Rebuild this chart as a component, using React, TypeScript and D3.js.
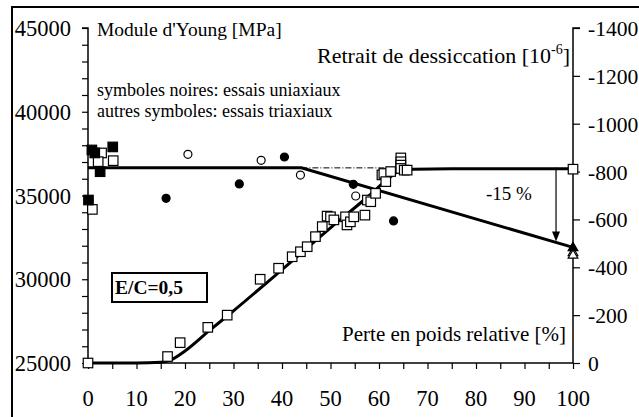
import React, { useRef, useEffect } from "react";
import * as d3 from "d3";

// x axis: relative weight loss [%]
const pctTicks = [0, 10, 20, 30, 40, 50, 60, 70, 80, 90, 100];
const eTicks = [25000, 30000, 35000, 40000, 45000];
const strainTicks = [0, -200, -400, -600, -800, -1000, -1200, -1400];

// Young's modulus trend line (left axis)
const eLinePct = [0, 44, 100];
const eLineVal = [36650, 36650, 31900];
const eDashPct = [44, 64];
const eDashVal = [36650, 36650];

// drying shrinkage trend curve (right axis)
const shrinkPct = [0, 10, 15, 17, 20, 25, 30, 40, 50, 58, 62, 64, 67, 75, 100];
const shrinkVal = [0, 0, -3, -12, -50, -135, -218, -390, -565, -700, -772, -800, -810, -812, -812];

// uniaxial (black) E points
const eFilledSqPct = [0.8, 1.4, 5.1, 2.5, 0.1];
const eFilledSqVal = [37720, 37540, 37900, 36420, 34730];
const eFilledCirPct = [16.1, 31.2, 40.5, 54.7, 63];
const eFilledCirVal = [34830, 35690, 37300, 35670, 33480];
// triaxial E points
const eOpenSqPct = [2.8, 5.2, 2.1, 0.9];
const eOpenSqVal = [37540, 37080, 37020, 34170];
const eOpenCirPct = [20.6, 35.7, 43.8, 55.2];
const eOpenCirVal = [37460, 37100, 36220, 34970];
const triFilledPct = [100];
const triFilledVal = [31880];
const triOpenPct = [100, 100];
const triOpenVal = [31580, 31430];

// shrinkage measurements (right axis)
const shrinkSqPct = [0, 16.4, 19, 24.7, 28.7, 35.5, 39.3, 42.1, 43.8, 45.2, 46.9, 48.3, 49.3, 50, 50.7,
  53.1, 53.4, 54.1, 54.8, 57.1, 57.6, 58.3, 59.3, 60.6, 61, 61.4, 62.4, 64.5, 64.5, 64.5, 64.5, 65.2, 65.8, 100];
const shrinkSqVal = [0, -27, -85, -149, -200, -350, -396, -444, -465, -486, -528, -570, -614, -611, -598,
  -611, -577, -590, -611, -618, -681, -674, -709, -786, -792, -758, -800, -857, -841, -827, -813, -806, -806, -810];

// -15 % arrow
const arrowPct = [96.5, 96.5];
const arrowVal = [36650, 32250];

const W = 639;
const H = 417;
const FONT = "'Liberation Serif', 'Times New Roman', serif";

const App = () => {
  const svgRef = useRef(null);

  useEffect(() => {
    const svg = d3.select(svgRef.current);
    svg.selectAll("*").remove();

    const x = d3.scaleLinear().domain([0, 100]).range([88, 573]);
    const yE = d3.scaleLinear().domain([25000, 45000]).range([363, 28]);
    const yS = d3.scaleLinear().domain([0, -1400]).range([363, 28]);

    // outer frame (left and top edges)
    svg.append("path").attr("d", `M12,${H} L12,7 L${W},7`).attr("fill", "none")
      .attr("stroke", "#000").attr("stroke-width", 2);

    // left axis
    const leftAxis = svg.append("g").attr("transform", `translate(${x(0)},0)`)
      .call(d3.axisLeft(yE).tickValues(d3.range(25000, 45001, 1000)).tickSize(6).tickFormat(() => ""));
    leftAxis.select(".domain").attr("stroke-width", 1.5).attr("d", `M-6,${yE(45000)}H0V${yE(25000)}`);
    leftAxis.selectAll(".tick line").attr("stroke-width", 1.2);
    svg.append("g").selectAll("text").data(eTicks).enter().append("text")
      .attr("x", 71).attr("y", (d) => yE(d) + 8).attr("text-anchor", "end")
      .attr("font-family", FONT).attr("font-size", 22.5).text((d) => d);

    // right axis
    const rightAxis = svg.append("g").attr("transform", `translate(${x(100)},0)`)
      .call(d3.axisRight(yS).tickValues(strainTicks).tickSize(7).tickFormat(() => ""));
    rightAxis.select(".domain").attr("stroke-width", 1.5).attr("d", `M7,${yS(-1400)}H0V${yS(0)}`);
    rightAxis.selectAll(".tick line").attr("stroke-width", 1.2);
    svg.append("g").selectAll("text").data(strainTicks).enter().append("text")
      .attr("x", 588).attr("y", (d) => yS(d) + 8)
      .attr("font-family", FONT).attr("font-size", 21.6).text((d) => d);

    // bottom axis
    const bottomAxis = svg.append("g").attr("transform", `translate(0,${yE(25000)})`)
      .call(d3.axisBottom(x).tickValues(d3.range(0, 101, 5)).tickSize(6).tickFormat(() => ""));
    bottomAxis.select(".domain").attr("stroke-width", 1.5).attr("d", `M${x(0)},0H${x(100)}`);
    bottomAxis.selectAll(".tick line").attr("stroke-width", 1.2);
    svg.append("g").selectAll("text").data(pctTicks).enter().append("text")
      .attr("x", (d) => x(d)).attr("y", 406).attr("text-anchor", "middle")
      .attr("font-family", FONT).attr("font-size", 22.5).text((d) => d);

    // trend lines
    const eLine = d3.line().x((d) => x(d[0])).y((d) => yE(d[1]));
    svg.append("path").attr("d", eLine(d3.zip(eDashPct, eDashVal)))
      .attr("fill", "none").attr("stroke", "#000").attr("stroke-width", 1)
      .attr("stroke-dasharray", "6,2,1,2");
    svg.append("path").attr("d", eLine(d3.zip(eLinePct, eLineVal)))
      .attr("fill", "none").attr("stroke", "#000").attr("stroke-width", 3);
    const sLine = d3.line().x((d) => x(d[0])).y((d) => yS(d[1])).curve(d3.curveMonotoneX);
    svg.append("path").attr("d", sLine(d3.zip(shrinkPct, shrinkVal)))
      .attr("fill", "none").attr("stroke", "#000").attr("stroke-width", 3);

    // markers
    const sq = 9.5;
    const squares = (px, py, ys, fill) => {
      svg.append("g").selectAll("rect").data(d3.zip(px, py)).enter().append("rect")
        .attr("x", (d) => x(d[0]) - sq / 2).attr("y", (d) => ys(d[1]) - sq / 2)
        .attr("width", sq).attr("height", sq)
        .attr("fill", fill).attr("stroke", "#000").attr("stroke-width", 1.2);
    };
    const circles = (px, py, fill) => {
      svg.append("g").selectAll("circle").data(d3.zip(px, py)).enter().append("circle")
        .attr("cx", (d) => x(d[0])).attr("cy", (d) => yE(d[1])).attr("r", 4)
        .attr("fill", fill).attr("stroke", "#000").attr("stroke-width", 1.2);
    };
    const tri = d3.symbol().type(d3.symbolTriangle).size(40);
    const triangles = (px, py, fill) => {
      svg.append("g").selectAll("path").data(d3.zip(px, py)).enter().append("path")
        .attr("d", tri).attr("transform", (d) => `translate(${x(d[0])},${yE(d[1])})`)
        .attr("fill", fill).attr("stroke", "#000").attr("stroke-width", 1.2);
    };
    squares(shrinkSqPct, shrinkSqVal, yS, "#fff");
    squares(eOpenSqPct, eOpenSqVal, yE, "#fff");
    squares(eFilledSqPct, eFilledSqVal, yE, "#000");
    circles(eOpenCirPct, eOpenCirVal, "#fff");
    circles(eFilledCirPct, eFilledCirVal, "#000");
    triangles(triOpenPct, triOpenVal, "#fff");
    triangles(triFilledPct, triFilledVal, "#000");

    // -15 % arrow
    svg.append("line").attr("x1", x(arrowPct[0])).attr("x2", x(arrowPct[1]))
      .attr("y1", yE(arrowVal[0])).attr("y2", yE(arrowVal[1]) - 9)
      .attr("stroke", "#000").attr("stroke-width", 1.2);
    const ax = x(arrowPct[1]);
    const ay = yE(arrowVal[1]);
    svg.append("path").attr("d", `M${ax - 4},${ay - 10}L${ax + 4},${ay - 10}L${ax},${ay}Z`).attr("fill", "#000");
    svg.append("text").attr("x", 486).attr("y", 200).attr("font-family", FONT)
      .attr("font-size", 19).text("-15 %");

    // texts
    svg.append("text").attr("x", 97).attr("y", 36).attr("font-family", FONT)
      .attr("font-size", 19.5).text("Module d'Young [MPa]");
    const rt = svg.append("text").attr("x", 570).attr("y", 63).attr("text-anchor", "end")
      .attr("font-family", FONT).attr("font-size", 22);
    rt.append("tspan").text("Retrait de dessiccation [10");
    rt.append("tspan").attr("dy", -9).attr("font-size", 14).text("-6");
    rt.append("tspan").attr("dy", 9).text("]");
    svg.append("text").attr("x", 97).attr("y", 96).attr("font-family", FONT)
      .attr("font-size", 18).text("symboles noires: essais uniaxiaux");
    svg.append("text").attr("x", 97).attr("y", 117).attr("font-family", FONT)
      .attr("font-size", 18).text("autres symboles: essais triaxiaux");
    svg.append("text").attr("x", 566).attr("y", 341).attr("text-anchor", "end")
      .attr("font-family", FONT).attr("font-size", 21).text("Perte en poids relative [%]");

    // E/C box
    svg.append("rect").attr("x", 112).attr("y", 273).attr("width", 95).attr("height", 29)
      .attr("fill", "#fff").attr("stroke", "#000").attr("stroke-width", 2);
    svg.append("text").attr("x", 115).attr("y", 294).attr("font-family", FONT)
      .attr("font-size", 19.5).attr("font-weight", "bold").text("E/C=0,5");
  }, []);

  return (
    <svg ref={svgRef} width={W} height={H}
      style={{ position: "absolute", left: 0, top: 0, background: "#fff" }} />
  );
};

export default App;
